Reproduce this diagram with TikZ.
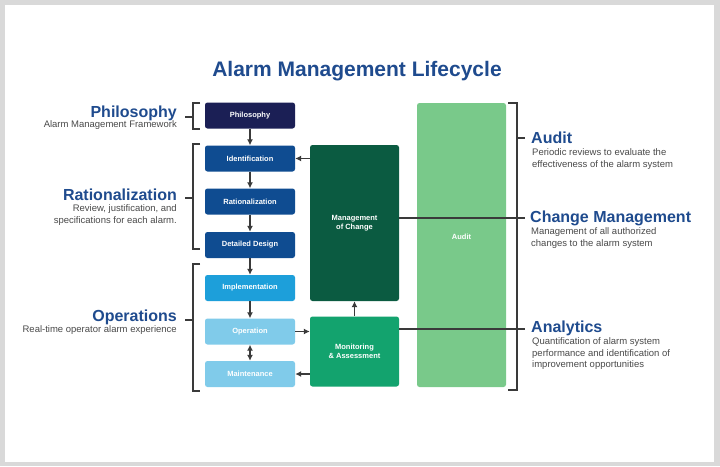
\documentclass[tikz,border=0pt]{standalone}
\usepackage{fontspec}
\setmainfont{Liberation Sans}
\usepackage{tikz}
\usetikzlibrary{arrows.meta,positioning}
\definecolor{titleblue}{HTML}{1F4B8E}
\definecolor{philnavy}{HTML}{1B1F55}
\definecolor{ratblue}{HTML}{0F4C91}
\definecolor{implblue}{HTML}{1D9FDA}
\definecolor{opblue}{HTML}{80CBEA}
\definecolor{mocgreen}{HTML}{0B5B41}
\definecolor{mongreen}{HTML}{13A36E}
\definecolor{auditgreen}{HTML}{79C98A}
\definecolor{framegray}{HTML}{D9D9D9}
\definecolor{linegray}{HTML}{3A3A3A}
\definecolor{subgray}{HTML}{4A4A4A}

\begin{document}
\begin{tikzpicture}[x=1pt, y=-1pt,
  box/.style={rectangle, rounded corners=2.5pt, minimum width=90pt, minimum height=26pt, inner sep=1pt, align=center, text=white, font=\fontsize{7.5}{9.5}\selectfont\bfseries},
  pbox/.style={box, fill=philnavy},
  rbox/.style={box, fill=ratblue},
  ibox/.style={box, fill=implblue},
  obox/.style={box, fill=opblue},
  gbox/.style={box, minimum width=89pt},
  arr/.style={-{Latex[length=6pt,width=6pt]}, line width=1.6pt, linegray},
  darr/.style={{Latex[length=6pt,width=6pt]}-{Latex[length=6pt,width=6pt]}, line width=1.6pt, linegray},
  brk/.style={line width=1.5pt, linegray},
  head/.style={font=\fontsize{16}{18}\selectfont\bfseries, text=titleblue, inner sep=0pt},
  sub/.style={font=\fontsize{9.5}{11.5}\selectfont, text=subgray, inner sep=0pt}
]
\useasboundingbox (0,0) rectangle (720,466);
\fill[framegray] (0,0) rectangle (720,466);
\fill[white] (5,5) rectangle (714,462);

% Title
\node[font=\fontsize{21}{25}\selectfont\bfseries, text=titleblue] (title) at (357,71) {Alarm Management Lifecycle};

% Lifecycle stages
\node[pbox] (phil) at (250,115.5) {Philosophy};
\node[rbox] (ident) at (250,158.5) {Identification};
\node[rbox] (ratio) at (250,201.5) {Rationalization};
\node[rbox] (design) at (250,245) {Detailed Design};
\node[ibox] (impl) at (250,288) {Implementation};
\node[obox] (oper) at (250,331.5) {Operation};
\node[obox] (maint) at (250,374) {Maintenance};

% Change and monitoring
\node[gbox, fill=mocgreen, minimum height=156pt] (moc) at (354.5,223) {Management\\of Change};
\node[gbox, fill=mongreen, minimum height=70pt] (mon) at (354.5,351.5) {Monitoring\\\& Assessment};
\node[gbox, fill=auditgreen, minimum height=284pt, label={[box, yshift=8pt]center:Audit}] (audit) at (461.5,245) {};

% Flow
\draw[arr] (phil) -- (ident);
\draw[arr] (ident) -- (ratio);
\draw[arr] (ratio) -- (design);
\draw[arr] (design) -- (impl);
\draw[arr] (impl) -- (oper);
\draw[darr] (oper) -- (maint);
\draw[arr] (oper.east) -- (oper.east -| mon.west);
\draw[arr] (mon.west |- maint.east) -- (maint.east);
\draw[arr] (mon) -- (moc);
\draw[arr] (moc.west |- ident.east) -- (ident.east);

% Left brackets
\draw[brk] (200,103) -- (193,103) -- (193,129) -- (200,129);
\draw[brk] (193,117) -- (185,117);
\draw[brk] (200,144) -- (193,144) -- (193,249) -- (200,249);
\draw[brk] (193,198) -- (185,198);
\draw[brk] (200,264) -- (193,264) -- (193,391) -- (200,391);
\draw[brk] (193,320) -- (185,320);

% Right bracket
\draw[brk] (508,103) -- (517,103) -- (517,390) -- (508,390);
\draw[brk] (517,138) -- (525,138);
\coordinate (cmtick) at (525,218);
\coordinate (antick) at (525,329);
\draw[brk] (moc.east |- cmtick) -- (cmtick);
\draw[brk] (mon.east |- antick) -- (antick);

% Left labels
\node[head, anchor=base east] (philT) at (177,117) {Philosophy};
\node[sub, anchor=north east, align=right] (philS) at (177,120) {Alarm Management Framework};
\node[head, anchor=base east] (ratT) at (177,200) {Rationalization};
\node[sub, anchor=north east, align=right] (ratS) at (177,204.5) {Review, justification, and\\specifications for each alarm.};
\node[head, anchor=base east] (opT) at (177,321) {Operations};
\node[sub, anchor=north east, align=right] (opS) at (177,325.5) {Real-time operator alarm experience};

% Right labels
\node[head, anchor=base west] (audT) at (531,143) {Audit};
\node[sub, anchor=north west, align=left] (audS) at (532,148.5) {Periodic reviews to evaluate the\\effectiveness of the alarm system};
\node[head, anchor=base west] (cmT) at (530,222) {Change Management};
\node[sub, anchor=north west, align=left] (cmS) at (531,227.5) {Management of all authorized\\changes to the alarm system};
\node[head, anchor=base west] (anT) at (531,332) {Analytics};
\node[sub, anchor=north west, align=left] (anS) at (532,337.5) {Quantification of alarm system\\performance and identification of\\improvement opportunities};

\end{tikzpicture}
\end{document}
